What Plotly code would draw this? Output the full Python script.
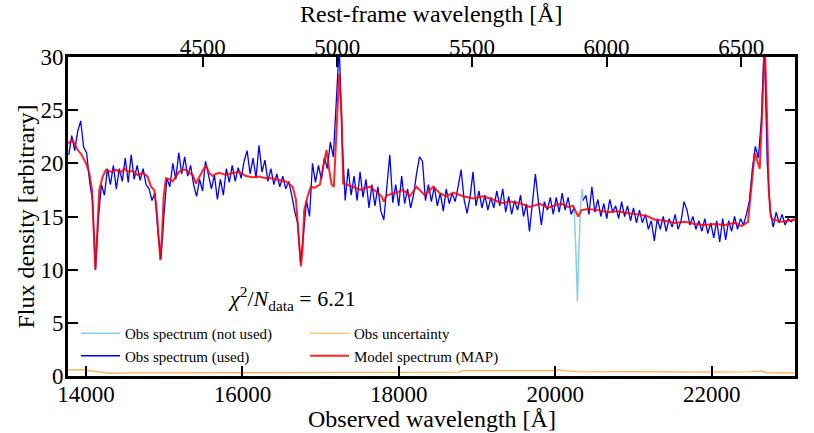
import numpy as np
import plotly.graph_objects as go

# ---------------- data ----------------
ONE_PLUS_Z = 3.4425
REST_RANGE = [4000, 6700]

obs_tickvals = [14000, 16000, 18000, 20000, 22000]
obs_ticktext = ["14000", "16000", "18000", "20000", "22000"]
rest_tickvals = [4500, 5000, 5500, 6000, 6500]
rest_ticktext = ["4500", "5000", "5500", "6000", "6500"]
flux_tickvals = [0, 5, 10, 15, 20, 25, 30]

# observed spectrum (used), sampled every 38 A from 13780 A
obs_wl = np.arange(13780, 23053, 38)
obs_flux = [
    20.8, 22.6, 21.2, 23.0, 24.0, 21.5, 21.0, 18.3, 16.5, 10.0,
    15.0, 18.0, 17.0, 19.5, 18.0, 19.8, 17.6, 19.5, 18.3, 20.5,
    18.2, 20.8, 18.5, 19.8, 18.4, 19.5, 18.0, 17.6, 16.5, 17.2,
    13.5, 11.0, 15.0, 18.6, 17.8, 20.0, 18.5, 21.0, 19.0, 20.6,
    18.8, 19.8, 18.0, 16.9, 18.5, 17.4, 20.2, 19.0, 17.6, 18.9,
    16.6, 18.5, 17.0, 19.5, 18.2, 19.8, 18.3, 19.6, 18.6, 20.2,
    21.2, 19.0, 20.5, 18.6, 21.7, 19.2, 20.3, 18.3, 19.5, 18.0,
    19.0, 17.8, 18.8, 17.6, 18.3, 17.0, 15.5, 14.4, 10.6, 13.5,
    16.5, 15.0, 20.0, 18.2, 19.8, 18.5, 20.5, 19.5, 22.0, 20.6,
    26.5, 31.0, 22.0, 16.5, 19.5, 17.0, 18.8, 16.5, 19.2, 16.8,
    18.5, 15.8, 18.0, 16.0, 17.8, 15.5, 14.7, 17.5, 20.8, 16.3,
    18.0, 16.0, 18.8, 16.2, 17.6, 15.8, 17.0, 19.0, 20.6, 20.2,
    16.5, 18.0, 16.4, 17.8, 16.0, 17.2, 15.5, 17.6, 16.2, 17.2,
    16.4, 17.8, 19.4, 16.6, 15.3, 16.8, 19.2, 16.0, 17.4, 15.8,
    17.0, 15.6, 16.8, 15.8, 17.4, 16.0, 17.6, 15.4, 16.9, 15.2,
    16.5, 15.6, 17.0, 15.0, 16.2, 13.6, 16.4, 19.0, 16.4, 14.2,
    16.4, 15.6, 16.8, 15.2, 16.8, 15.4, 17.2, 15.6, 16.8, 15.2,
    15.8, None, None, 16.5, 17.0, 15.2, 17.8, 15.4, 16.6, 15.0,
    16.2, 14.8, 16.6, 15.4, 16.0, 14.8, 16.4, 15.0, 16.0, 14.6,
    15.8, 14.4, 15.6, 14.4, 15.2, 13.8, 14.6, 12.7, 14.8, 13.8,
    15.0, 13.6, 14.8, 14.0, 15.2, 13.8, 14.6, 16.4, 15.6, 14.2,
    15.0, 13.8, 14.6, 13.6, 14.8, 13.4, 14.4, 13.0, 14.6, 12.6,
    14.8, 12.8, 14.6, 13.6, 15.0, 13.8, 14.8, 14.2, 15.2, 16.5,
    19.5, 21.6, 20.5, 24.0, 31.5, 20.0, 15.5, 14.0, 15.4, 14.4,
    15.2, 14.2, 14.8, 14.5, 14.8,
]

# observed spectrum (masked / not used)
notused_wl = [20210, 20240, 20262, 20283, 20305, 20322, 20342, 20360]
notused_flux = [16.0, 15.8, 12.0, 7.0, 12.5, 15.8, 17.6, 16.5]

# observational uncertainty
unc_wl = [13770, 13950, 14100, 14300, 14600, 16000, 17500, 18500, 18780, 18800,
          19500, 20010, 20040, 20100, 20300, 21000, 22000, 22500, 22640, 22700, 23065]
unc_flux = [0.55, 0.6, 0.45, 0.25, 0.3, 0.32, 0.33, 0.36, 0.36, 0.5,
            0.52, 0.5, 0.62, 0.5, 0.4, 0.42, 0.37, 0.4, 0.48, 0.3, 0.3]

# model spectrum (MAP)
model_wl = [13770, 13787, 13830, 13894, 13936, 14000, 14042, 14077, 14098, 14119,
            14141, 14170, 14213, 14256, 14320, 14383, 14440, 14490, 14540, 14597,
            14660, 14725, 14789, 14831, 14873, 14904, 14929, 14950, 14971, 14993,
            15022, 15065, 15108, 15150, 15192, 15235, 15278, 15320, 15364, 15406,
            15448, 15490, 15534, 15576, 15619, 15660, 15704, 15789, 15875, 15959,
            16045, 16130, 16215, 16300, 16386, 16470, 16556, 16642, 16684, 16713,
            16748, 16769, 16790, 16833, 16876, 16918, 16991, 17033, 17076, 17109,
            17140, 17169, 17204, 17237, 17268, 17288, 17332, 17416, 17502, 17630,
            17715, 17779, 17808, 17843, 17971, 18055, 18141, 18226, 18332, 18439,
            18524, 18610, 18694, 18822, 18950, 19078, 19205, 19313, 19419, 19547,
            19674, 19802, 19908, 20015, 20079, 20164, 20228, 20292, 20335, 20419,
            20547, 20675, 20803, 20931, 21058, 21186, 21272, 21400, 21527, 21655,
            21783, 21911, 22039, 22166, 22294, 22380, 22464, 22507, 22550, 22592,
            22614, 22643, 22678, 22707, 22729, 22754, 22784, 22891, 23039, 23070]
model_flux = [21.9, 22.0, 22.2, 21.25, 20.9, 20.0, 19.1, 17.5, 14.4, 10.0,
              13.1, 17.5, 18.75, 19.4, 19.2, 19.4, 19.1, 19.5, 19.2, 19.3,
              18.9, 19.1, 18.75, 17.8, 17.5, 15.6, 13.1, 10.9, 13.1, 16.9,
              18.6, 18.5, 18.3, 18.7, 19.2, 19.4, 19.4, 19.1, 18.9, 18.1,
              18.75, 19.3, 19.8, 19.1, 18.8, 19.0, 19.1, 18.9, 19.1, 19.2,
              18.8, 18.7, 18.75, 18.6, 18.6, 18.4, 18.3, 17.8, 16.6, 13.75,
              10.3, 11.9, 15.6, 16.9, 17.8, 17.7, 18.0, 19.7, 21.25, 19.4,
              18.0, 17.8, 22.8, 28.4, 24.4, 18.1, 18.0, 17.8, 17.5, 17.8,
              17.3, 16.9, 16.4, 17.0, 17.25, 17.5, 16.9, 17.8, 17.0, 17.8,
              17.2, 16.9, 17.25, 16.9, 16.7, 16.9, 16.6, 16.25, 16.4, 16.25,
              15.9, 16.2, 15.8, 16.1, 16.2, 15.9, 16.0, 15.0, 15.6, 15.7,
              15.6, 15.4, 15.5, 15.3, 15.2, 15.0, 14.7, 14.6, 14.4, 14.5,
              14.3, 14.2, 14.3, 14.2, 14.4, 14.1, 14.5, 17.5, 21.0, 20.0,
              19.5, 24.4, 31.5, 24.4, 17.5, 15.0, 14.7, 14.5, 14.7, 14.7]

chi2_value = 6.21

# ---------------- figure ----------------
FONT = "Liberation Serif, Times New Roman, serif"
W, H = 814, 433
ML, MR, MT, MB = 68, 19, 57, 57
PW, PH = W - ML - MR, H - MT - MB


def px_x(p):
    return (p - ML) / PW


def px_y(p):
    return (H - MB - p) / PH


fig = go.Figure()
fig.add_trace(go.Scatter(x=notused_wl, y=notused_flux, mode="lines",
                         line=dict(color="#87ceeb", width=1.5),
                         name="Obs spectrum (not used)", legend="legend"))
fig.add_trace(go.Scatter(x=obs_wl, y=obs_flux, mode="lines",
                         line=dict(color="#0000ff", width=1.3),
                         connectgaps=False,
                         name="Obs spectrum (used)", legend="legend"))
fig.add_trace(go.Scatter(x=unc_wl, y=unc_flux, mode="lines",
                         line=dict(color="#ff8c00", width=1.2), opacity=0.7,
                         name="Obs uncertainty", legend="legend2"))
fig.add_trace(go.Scatter(x=model_wl, y=model_flux, mode="lines",
                         line=dict(color="#ff0000", width=2), opacity=0.85,
                         name="Model spectrum (MAP)", legend="legend2"))
fig.add_trace(go.Scatter(x=REST_RANGE, y=[None, None], xaxis="x2",
                         showlegend=False, hoverinfo="skip"))

axis_common = dict(ticks="inside", ticklen=10, tickwidth=2, tickcolor="black",
                   showgrid=False, zeroline=False, automargin=False,
                   tickfont=dict(family=FONT, size=23, color="black"))

fig.update_layout(
    width=W, height=H, autosize=False,
    margin=dict(l=ML, r=MR, t=MT, b=MB),
    paper_bgcolor="white", plot_bgcolor="white",
    font=dict(family=FONT, color="black"),
    xaxis=dict(range=[REST_RANGE[0] * ONE_PLUS_Z, REST_RANGE[1] * ONE_PLUS_Z],
               tickvals=obs_tickvals, ticktext=obs_ticktext,
               showline=True, linewidth=3, linecolor="black", mirror=True,
               ticklabelstandoff=-5,
               **axis_common),
    xaxis2=dict(range=REST_RANGE, overlaying="x", side="top",
                tickvals=rest_tickvals, ticktext=rest_ticktext, showline=False,
                ticklabelstandoff=-4,
                **axis_common),
    yaxis=dict(range=[0, 30], tickvals=flux_tickvals, showline=True, linewidth=3,
               linecolor="black", mirror="ticks",
               ticklabelstandoff=-3,
               **axis_common),
    legend=dict(x=px_x(76), y=px_y(317), xanchor="left", yanchor="top",
                bgcolor="rgba(0,0,0,0)", font=dict(family=FONT, size=15),
                itemwidth=39, tracegroupgap=0),
    legend2=dict(x=px_x(305), y=px_y(317), xanchor="left", yanchor="top",
                 bgcolor="rgba(0,0,0,0)", font=dict(family=FONT, size=15),
                 itemwidth=39, tracegroupgap=0),
    showlegend=True,
)

# axis titles
fig.add_annotation(
    text="Observed wavelength [Å]",
    xref="paper", yref="paper", x=0.5, y=px_y(419),
    xanchor="center", yanchor="middle", showarrow=False,
    font=dict(family=FONT, size=24, color="black"))
fig.add_annotation(
    text="Rest-frame wavelength [Å]",
    xref="paper", yref="paper", x=0.5, y=px_y(14),
    xanchor="center", yanchor="middle", showarrow=False,
    font=dict(family=FONT, size=24, color="black"))
fig.add_annotation(
    text="Flux density [arbitrary]", textangle=-90,
    xref="paper", yref="paper", x=px_x(25), y=0.5,
    xanchor="center", yanchor="middle", showarrow=False,
    font=dict(family=FONT, size=24, color="black"))

fig.add_annotation(
    text=f"<i>χ</i><sup>2</sup>/<i>N</i><sub>data</sub> = {chi2_value:.2f}",
    xref="paper", yref="paper", x=px_x(292), y=px_y(298),
    xanchor="center", yanchor="middle", showarrow=False,
    font=dict(family=FONT, size=22, color="black"))

fig.write_html("out.html")
